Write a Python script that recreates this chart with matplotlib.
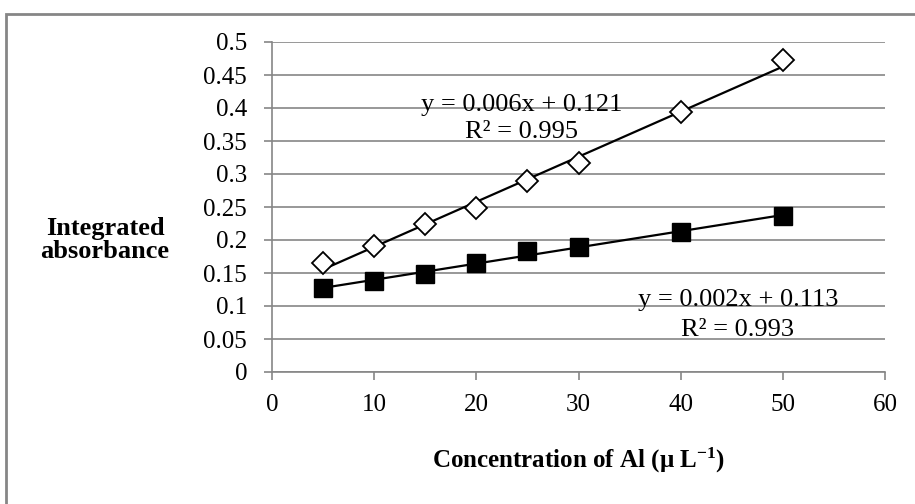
import numpy as np
import matplotlib
matplotlib.use("Agg")
import matplotlib.pyplot as plt
from matplotlib.patches import Rectangle

conc = [5, 10, 15, 20, 25, 30, 40, 50]
series_open = [0.165, 0.191, 0.225, 0.249, 0.289, 0.317, 0.394, 0.472]
series_filled = [0.127, 0.138, 0.149, 0.165, 0.183, 0.190, 0.212, 0.236]
eq_open = ["y = 0.006x + 0.121", "R² = 0.995"]
eq_filled = ["y = 0.002x + 0.113", "R² = 0.993"]
x_ticks = [0, 10, 20, 30, 40, 50, 60]
y_ticks = [0, 0.05, 0.1, 0.15, 0.2, 0.25, 0.3, 0.35, 0.4, 0.45, 0.5]
y_tick_labels = ["0", "0.05", "0.1", "0.15", "0.2", "0.25", "0.3", "0.35", "0.4", "0.45", "0.5"]

plt.rcParams['font.family'] = ['Liberation Serif', 'DejaVu Serif']
plt.rcParams['mathtext.fontset'] = 'custom'
plt.rcParams['mathtext.rm'] = 'Liberation Serif'
plt.rcParams['mathtext.bf'] = 'Liberation Serif:bold'
plt.rcParams['mathtext.it'] = 'Liberation Serif:italic'
FS = 18

fig = plt.figure(figsize=(9.15, 5.04), dpi=100)
ax = fig.add_axes([272/915, 1-372/504, (885-272)/915, (372-42)/504])

grey = '#868686'
ax.set_xlim(0, 60)
ax.set_ylim(0, 0.5)
ax.set_xticks(x_ticks)
ax.set_xticklabels([str(t) for t in x_ticks])
ax.set_yticks(y_ticks)
ax.set_yticklabels(y_tick_labels)
ax.yaxis.grid(True, color=grey, linewidth=1.2)
ax.set_axisbelow(True)
for s in ['top', 'right']:
    ax.spines[s].set_visible(False)
for s in ['left', 'bottom']:
    ax.spines[s].set_color(grey)
    ax.spines[s].set_linewidth(1.2)
ax.tick_params(axis='both', colors=grey, labelcolor='black', labelsize=FS,
               length=6, width=1.2, direction='out')
ax.tick_params(axis='y', pad=12)
ax.tick_params(axis='x', pad=10)

x = np.array(conc, dtype=float)
for vals in (series_open, series_filled):
    p = np.polyfit(x, np.array(vals), 1)
    xl = np.array([x.min(), x.max()])
    ax.plot(xl, np.polyval(p, xl), color='black', linewidth=1.6, zorder=2)

ax.plot(conc, series_open, linestyle='none', marker='D', markersize=11,
        markerfacecolor='white', markeredgecolor='black', markeredgewidth=1.3, zorder=3)
ax.plot(conc, series_filled, linestyle='none', marker='s', markersize=13.5,
        markerfacecolor='black', markeredgecolor='black', zorder=3)

EFS = 19
ax.text(24.4, 0.405, eq_open[0], ha='center', va='center', fontsize=EFS)
ax.text(24.4, 0.363, eq_open[1], ha='center', va='center', fontsize=EFS)
ax.text(45.6, 0.109, eq_filled[0], ha='center', va='center', fontsize=EFS)
ax.text(45.6, 0.064, eq_filled[1], ha='center', va='center', fontsize=EFS)

fig.text(105/915, 1-240/504, "Integrated\nabsorbance", ha='center', va='center',
         fontsize=19, fontweight='bold', linespacing=1.05)
fig.text(578/915, 1-460/504, "Concentration of Al (μ L$^{\\mathbf{-1}}$)", ha='center', va='center',
         fontsize=FS, fontweight='bold')

fig.patches.append(Rectangle((5.5/915, -0.02), 1.1, 1-14/504+0.02, transform=fig.transFigure,
                             fill=False, edgecolor=grey, linewidth=2))

fig.savefig("out.png", dpi=100)
